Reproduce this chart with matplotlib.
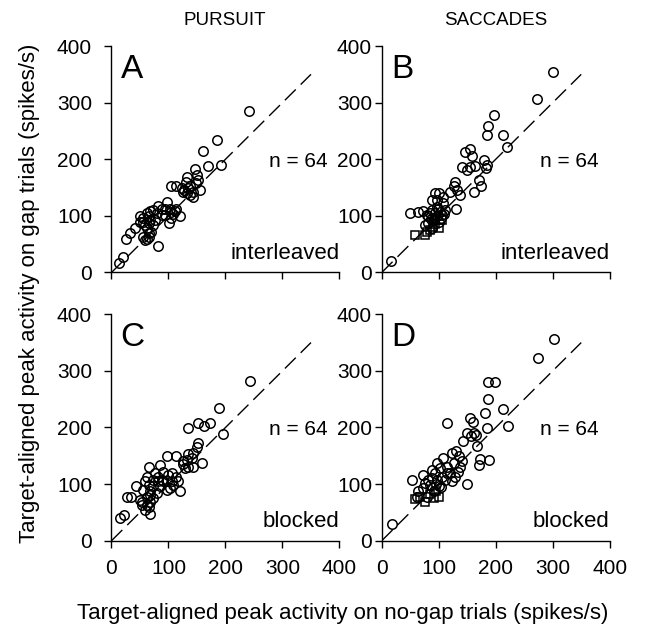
import matplotlib
matplotlib.use("Agg")
import matplotlib.pyplot as plt

plt.rcParams['font.family'] = ['Liberation Sans', 'DejaVu Sans']

# peak activity (spikes/s): no-gap trials (x) vs gap trials (y)
pursuit_inter_x = [241, 186, 161, 193, 170, 146, 150, 133, 131, 138, 127, 143, 155, 149, 138, 104,
                   113, 97, 82, 88, 103, 111, 120, 101, 105, 94, 79, 68, 62, 50, 56, 68, 73, 62,
                   65, 62, 82, 56, 41, 32, 25, 21, 14, 59, 76, 88, 108, 114, 126, 132, 143, 152,
                   66, 59, 70, 65, 50, 94, 105, 123, 135, 73, 56, 65]
pursuit_inter_y = [286, 234, 215, 190, 188, 183, 172, 169, 160, 152, 146, 143, 146, 158, 137, 152,
                   153, 125, 118, 113, 113, 109, 100, 87, 97, 101, 105, 109, 105, 99, 90, 93, 84, 78,
                   69, 59, 47, 62, 78, 70, 59, 28, 17, 57, 93, 101, 104, 113, 143, 140, 134, 163,
                   99, 84, 72, 87, 90, 113, 107, 149, 149, 110, 96, 63]

sacc_inter_x = [300, 272, 197, 186, 185, 212, 220, 146, 154, 158, 141, 149, 155, 164, 179, 183,
                185, 170, 174, 162, 126, 132, 138, 120, 129, 94, 100, 108, 88, 97, 107, 131,
                49, 64, 73, 79, 88, 97, 103, 111, 91, 82, 97, 105, 76, 88, 16, 85, 94, 100,
                82, 92, 104, 110, 98, 86]
sacc_inter_y = [354, 306, 278, 258, 243, 243, 222, 213, 218, 205, 187, 181, 187, 188, 199, 184,
                190, 163, 152, 143, 152, 146, 137, 143, 160, 140, 141, 134, 128, 128, 122, 112,
                105, 106, 109, 101, 110, 116, 107, 110, 93, 88, 99, 101, 84, 78, 21, 105, 105, 90,
                99, 97, 96, 103, 112, 95]
sacc_inter_sq_x = [59, 76, 100, 85, 93, 80, 105, 90]
sacc_inter_sq_y = [66, 66, 78, 75, 85, 72, 92, 80]

pursuit_block_x = [243, 189, 196, 135, 151, 162, 173, 151, 150, 143, 135, 141, 126, 135, 143, 158,
                   129, 97, 113, 85, 91, 65, 62, 76, 82, 100, 107, 114, 106, 117, 102, 120, 97, 85,
                   73, 68, 62, 68, 53, 65, 68, 59, 43, 35, 28, 22, 15, 73, 65, 56, 88, 97, 108,
                   79, 62, 73, 91, 126, 132, 59, 53, 68, 82, 50]
pursuit_block_y = [282, 235, 189, 199, 208, 202, 208, 173, 165, 155, 154, 146, 140, 131, 131, 138,
                   128, 150, 149, 134, 122, 131, 113, 119, 113, 116, 119, 113, 105, 105, 93, 87, 90, 96,
                   96, 87, 78, 69, 69, 60, 48, 54, 96, 77, 78, 46, 40, 108, 99, 90, 108, 105, 99,
                   84, 63, 75, 105, 135, 143, 105, 63, 81, 105, 72]

sacc_block_x = [302, 275, 186, 199, 186, 182, 212, 222, 184, 115, 154, 160, 149, 161, 156, 166,
                142, 168, 173, 170, 189, 123, 131, 135, 141, 138, 133, 149, 108, 97, 88, 73,
                53, 64, 62, 73, 82, 94, 103, 114, 120, 111, 100, 91, 79, 85, 105, 129, 123,
                18, 97, 88, 76, 114, 126, 96, 104]
sacc_block_y = [356, 322, 280, 280, 251, 226, 232, 202, 199, 208, 217, 209, 191, 190, 185, 186,
                176, 167, 144, 134, 142, 155, 158, 149, 140, 131, 122, 100, 146, 137, 125, 116,
                108, 87, 78, 93, 108, 119, 128, 131, 119, 108, 96, 87, 78, 99, 113, 113, 105,
                30, 108, 110, 102, 119, 137, 100, 95]
sacc_block_sq_x = [76, 59, 91, 100, 67, 85, 95]
sacc_block_sq_y = [69, 73, 75, 78, 78, 82, 88]

panels = [
    ('A', 'interleaved', pursuit_inter_x, pursuit_inter_y, [], []),
    ('B', 'interleaved', sacc_inter_x, sacc_inter_y, sacc_inter_sq_x, sacc_inter_sq_y),
    ('C', 'blocked', pursuit_block_x, pursuit_block_y, [], []),
    ('D', 'blocked', sacc_block_x, sacc_block_y, sacc_block_sq_x, sacc_block_sq_y),
]
ticks = [0, 100, 200, 300, 400]

fig = plt.figure(figsize=(6.47, 6.27), dpi=100)
lefts = [0.1723, 0.590]
bottoms = [0.5654, 0.1376]
w, h = 0.3524, 0.3612

for i, (letter, mode, xs, ys, sqx, sqy) in enumerate(panels):
    row, col = divmod(i, 2)
    ax = fig.add_axes([lefts[col], bottoms[row], w, h])
    ax.plot([0, 350], [0, 350], color='black', lw=1, dashes=(11, 5))
    ax.plot(xs, ys, 'o', mfc='none', mec='black', ms=6.8, mew=1.1, clip_on=False)
    if sqx:
        ax.plot(sqx, sqy, 's', mfc='none', mec='black', ms=6, mew=1.1)
    ax.set_xlim(0, 400)
    ax.set_ylim(0, 400)
    ax.set_xticks(ticks)
    ax.set_yticks(ticks)
    if row == 0:
        ax.set_xticklabels([])
    for s in ['top', 'right']:
        ax.spines[s].set_visible(False)
    for s in ['left', 'bottom']:
        ax.spines[s].set_linewidth(1.0)
    ax.tick_params(direction='out', length=5, width=1, labelsize=15)
    ax.tick_params(axis='y', pad=9 if col == 0 else 2)
    ax.tick_params(axis='x', pad=8)
    ax.text(0.04, 0.86, letter, transform=ax.transAxes, fontsize=24, va='baseline')
    ax.text(0.95, 0.465, 'n = 64', transform=ax.transAxes, fontsize=15,
            ha='right', va='baseline')
    ax.text(1.0, 0.06, mode, transform=ax.transAxes, fontsize=16,
            ha='right', va='baseline')

fig.text(0.347, 0.968, 'PURSUIT', ha='center', va='center', fontsize=13.5)
fig.text(0.766, 0.968, 'SACCADES', ha='center', va='center', fontsize=13.5)
fig.text(0.046, 0.532, 'Target-aligned peak activity on gap trials (spikes/s)',
         rotation=90, ha='center', va='center', fontsize=16)
fig.text(0.53, 0.013, 'Target-aligned peak activity on no-gap trials (spikes/s)',
         ha='center', va='baseline', fontsize=16)

fig.savefig('out.png', dpi=100)
